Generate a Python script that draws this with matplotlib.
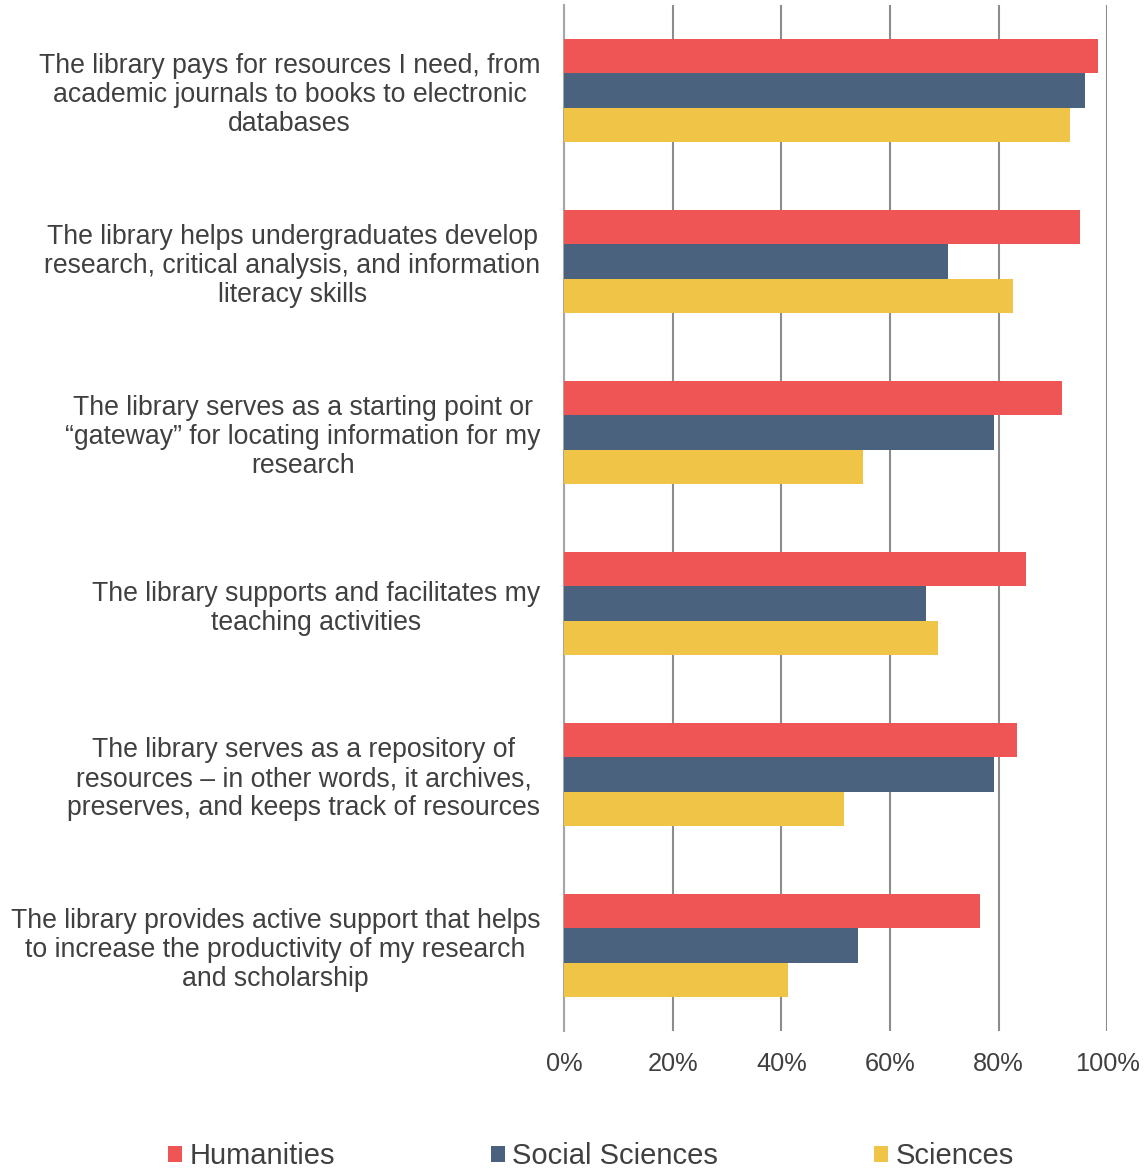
import matplotlib
matplotlib.use("Agg")
import matplotlib.pyplot as plt
from matplotlib.patches import Patch
import numpy as np

plt.rcParams["font.family"] = ["Liberation Sans", "DejaVu Sans"]

categories = [
    "The library pays for resources I need, from\nacademic journals to books to electronic\ndatabases",
    "The library helps undergraduates develop\nresearch, critical analysis, and information\nliteracy skills",
    "The library serves as a starting point or\n\u201cgateway\u201d for locating information for my\nresearch",
    "The library supports and facilitates my\nteaching activities",
    "The library serves as a repository of\nresources \u2013 in other words, it archives,\npreserves, and keeps track of resources",
    "The library provides active support that helps\nto increase the productivity of my research\nand scholarship",
]
humanities = [98.3, 95.0, 91.7, 85.1, 83.4, 76.6]
social_sciences = [95.9, 70.7, 79.2, 66.7, 79.2, 54.1]
sciences = [93.2, 82.7, 55.1, 68.9, 51.6, 41.3]

series_names = ["Humanities", "Social Sciences", "Sciences"]
colors = ["#EF5555", "#4B627F", "#F0C446"]
text_color = "#404040"

fig = plt.figure(figsize=(11.48, 11.68), dpi=100)
ax = fig.add_axes([0.4913, 0.1173, 0.4732, 0.8784])

y = np.arange(len(categories))
h = 0.2
for i, (vals, name, c) in enumerate(zip([humanities, social_sciences, sciences], series_names, colors)):
    ax.barh(y + (i - 1) * h, vals, height=h, color=c, label=name, zorder=3)

ax.set_xlim(0, 100)
ax.set_ylim(len(categories) - 0.5, -0.5)
ax.set_xticks(range(0, 101, 20))
ax.set_xticklabels([f"{v}%" for v in range(0, 101, 20)])
ax.set_yticks(y)
ax.set_yticklabels(categories, ha="right", multialignment="center",
                   fontsize=19.2, linespacing=1.16)
ax.tick_params(axis="both", length=0, colors=text_color)
ax.tick_params(axis="x", labelsize=18.3, pad=15)
ax.tick_params(axis="y", pad=17)

ax.grid(axis="x", color="#8C8C8C", linewidth=1.5, zorder=0)
for s in ["top", "right", "bottom"]:
    ax.spines[s].set_visible(False)
ax.spines["left"].set_color("#A6A6A6")
ax.spines["left"].set_linewidth(1.5)

handles = [Patch(facecolor=c, edgecolor="none") for c in colors]
fig.legend(handles, series_names, loc="center", bbox_to_anchor=(591 / 1148, 1 - 1156 / 1168),
           ncol=3, frameon=False, fontsize=21, labelcolor=text_color,
           handlelength=0.48, handleheight=0.48, handletextpad=0.25, columnspacing=5.35)

fig.savefig("out.png", dpi=100)
